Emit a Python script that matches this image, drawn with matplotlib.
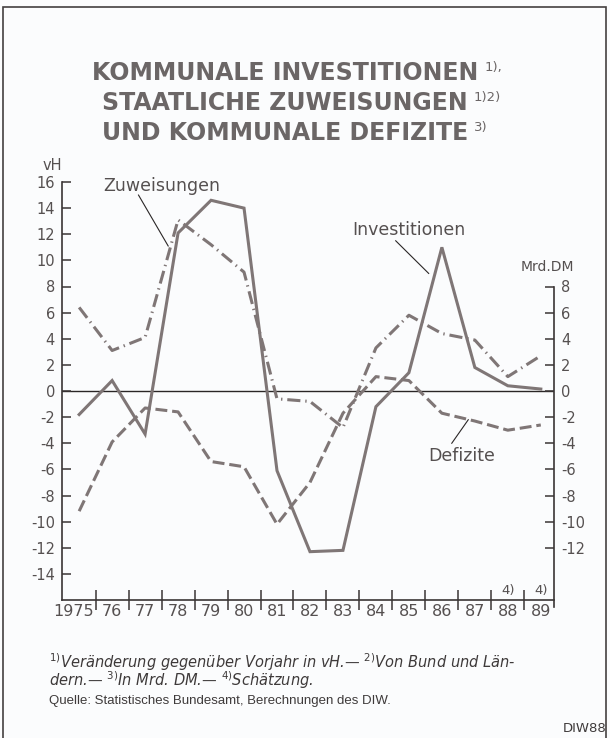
import numpy as np
from matplotlib import pyplot as plt
from matplotlib.patches import Rectangle
from matplotlib.transforms import ScaledTranslation

'''Kommunale Investitionen, Zuweisungen und Defizite 1975-1989 (DIW 88)'''

years = list(range(1975, 1990))
year_labels = ['1975', '76', '77', '78', '79', '80', '81', '82', '83', '84',
               '85', '86', '87', '88', '89']

# vH
investitionen = [-1.8, 0.8, -3.3, 12.1, 14.6, 14.0, -6.1, -12.3, -12.2, -1.2,
                 1.4, 11.0, 1.8, 0.4, 0.15]
zuweisungen = [6.4, 3.1, 4.1, 13.1, 11.2, 9.1, -0.6, -0.8, -2.8, 3.3,
               5.8, 4.4, 3.9, 1.1, 2.7]
# Mrd. DM
defizite = [-9.2, -3.9, -1.3, -1.6, -5.4, -5.8, -10.2, -7.0, -1.7, 1.1,
            0.8, -1.7, -2.3, -3.0, -2.6]

left_ticks = list(range(-14, 17, 2))
right_ticks = list(range(-12, 9, 2))

line_col = '#7f7676'
text_col = '#555050'
dark = '#3a3535'

plt.rcParams['axes.unicode_minus'] = False
plt.rcParams['font.family'] = 'DejaVu Sans'

fig = plt.figure(figsize=(6.1, 7.38), dpi=100)
fig.patch.set_facecolor('#fbfcfd')

# frame round the whole picture
fig.patches.append(Rectangle((3/610, -0.05), 603/610, 1 - 7/738 + 0.05,
                             transform=fig.transFigure, fill=False,
                             ec='#444040', lw=1.2))

ax = fig.add_axes([62/610, 138/738, 492/610, 418/738])
ax.set_facecolor('none')
ax.set_xlim(1974.48, 1989.4)
ax.set_ylim(-16, 16)

ax.plot(years, investitionen, color=line_col, lw=2.2, solid_joinstyle='miter')
ax.plot(years, zuweisungen, color=line_col, lw=2.2, dashes=(4.3, 1.6, 0.45, 1.6))
ax.plot(years, defizite, color=line_col, lw=2.2, dashes=(3.9, 1.6))
ax.axhline(0, color='#2a2626', lw=1.0, zorder=1)

for s in ['top', 'right']:
    ax.spines[s].set_visible(False)
for s in ['left', 'bottom']:
    ax.spines[s].set_color(dark)
    ax.spines[s].set_linewidth(1.2)

ax.set_yticks(left_ticks)
ax.set_yticklabels([str(t) for t in left_ticks])
ax.tick_params(axis='y', direction='in', length=6.5, width=1.1, color=dark,
               labelsize=10.5, labelcolor=text_col, pad=5)

ax.set_xticks([y + 0.5 for y in years[:-1]])
ax.set_xticklabels([])
ax.set_xticks(years, minor=True)
ax.set_xticklabels(year_labels, minor=True)
ax.tick_params(axis='x', which='major', direction='inout', length=14, width=1.1,
               color=dark)
ax.tick_params(axis='x', which='minor', length=0, labelsize=11.5,
               labelcolor=text_col, pad=3)
# '1975' sits left of its tick like in the print
first = ax.get_xticklabels(minor=True)[0]
first.set_transform(first.get_transform()
                    + ScaledTranslation(-6/100, 0, fig.dpi_scale_trans))

# right axis, Mrd. DM (same scale)
ax2 = ax.twinx()
ax2.set_ylim(-16, 16)
ax2.set_facecolor('none')
for s in ['top', 'left', 'bottom']:
    ax2.spines[s].set_visible(False)
ax2.spines['right'].set_bounds(-16.5, 8)
ax2.spines['right'].set_color(dark)
ax2.spines['right'].set_linewidth(1.2)
ax2.set_yticks(right_ticks)
ax2.set_yticklabels([str(t) for t in right_ticks])
ax2.tick_params(axis='y', direction='in', length=6.5, width=1.1, color=dark,
                labelsize=10.5, labelcolor=text_col, pad=5)

ax.text(1974.18, 17.3, 'vH', fontsize=10.5, color=text_col, ha='center',
        va='center')
ax.text(1989.2, 9.5, 'Mrd.DM', fontsize=10, color=text_col, ha='center',
        va='center')

for yr in [1988, 1989]:
    ax.text(yr, -15.3, '4)', fontsize=9.5, color=text_col, ha='center', va='center')

# labels with leader lines
lab = dict(fontsize=12.5, color=text_col)
ax.text(1977.5, 15.7, 'Zuweisungen', ha='center', va='center', **lab)
ax.plot([1976.8, 1977.7], [15.0, 11.1], color='#2a2626', lw=0.8)
ax.text(1985.0, 12.3, 'Investitionen', ha='center', va='center', **lab)
ax.plot([1984.6, 1985.6], [11.5, 9.0], color='#2a2626', lw=0.8)
ax.text(1986.6, -5.0, 'Defizite', ha='center', va='center', **lab)
ax.plot([1986.3, 1986.8], [-4.0, -2.2], color='#2a2626', lw=0.8)

# title
title_lines = ['KOMMUNALE INVESTITIONEN', 'STAATLICHE ZUWEISUNGEN',
               'UND KOMMUNALE DEFIZITE']
title_notes = ['1),', '1)2)', '3)']
title_y = [73, 103, 133]
for txt, note, yy in zip(title_lines, title_notes, title_y):
    t = fig.text(285/610, 1 - yy/738, txt, ha='center', va='center',
                 fontsize=17, fontweight='bold', color='#6b6666')
    fig.canvas.draw()
    bb = t.get_window_extent()
    fig.text((bb.x1 + 6)/610, 1 - (yy - 5)/738, note, ha='left', va='center',
             fontsize=9.5, color='#6b6666')

# footnotes (one text block, two lines)
fig.text(49/610, 1 - 671/738,
         r'$^{1)}$Veränderung gegenüber Vorjahr in vH.— $^{2)}$Von Bund und Län-'
         '\n' r'dern.— $^{3)}$In Mrd. DM.— $^{4)}$Schätzung.',
         fontsize=10.5, style='italic', color='#3e3a3a', va='center',
         linespacing=0.8)
fig.text(49/610, 1 - 701/738,
         'Quelle: Statistisches Bundesamt, Berechnungen des DIW.',
         fontsize=9.5, family='Liberation Sans', color='#3e3a3a', va='center')
fig.text(607/610, 1 - 728/738, 'DIW88', fontsize=9.5, color='#3e3a3a',
         va='center', ha='right')

fig.savefig('out.png', dpi=100, facecolor=fig.get_facecolor())
